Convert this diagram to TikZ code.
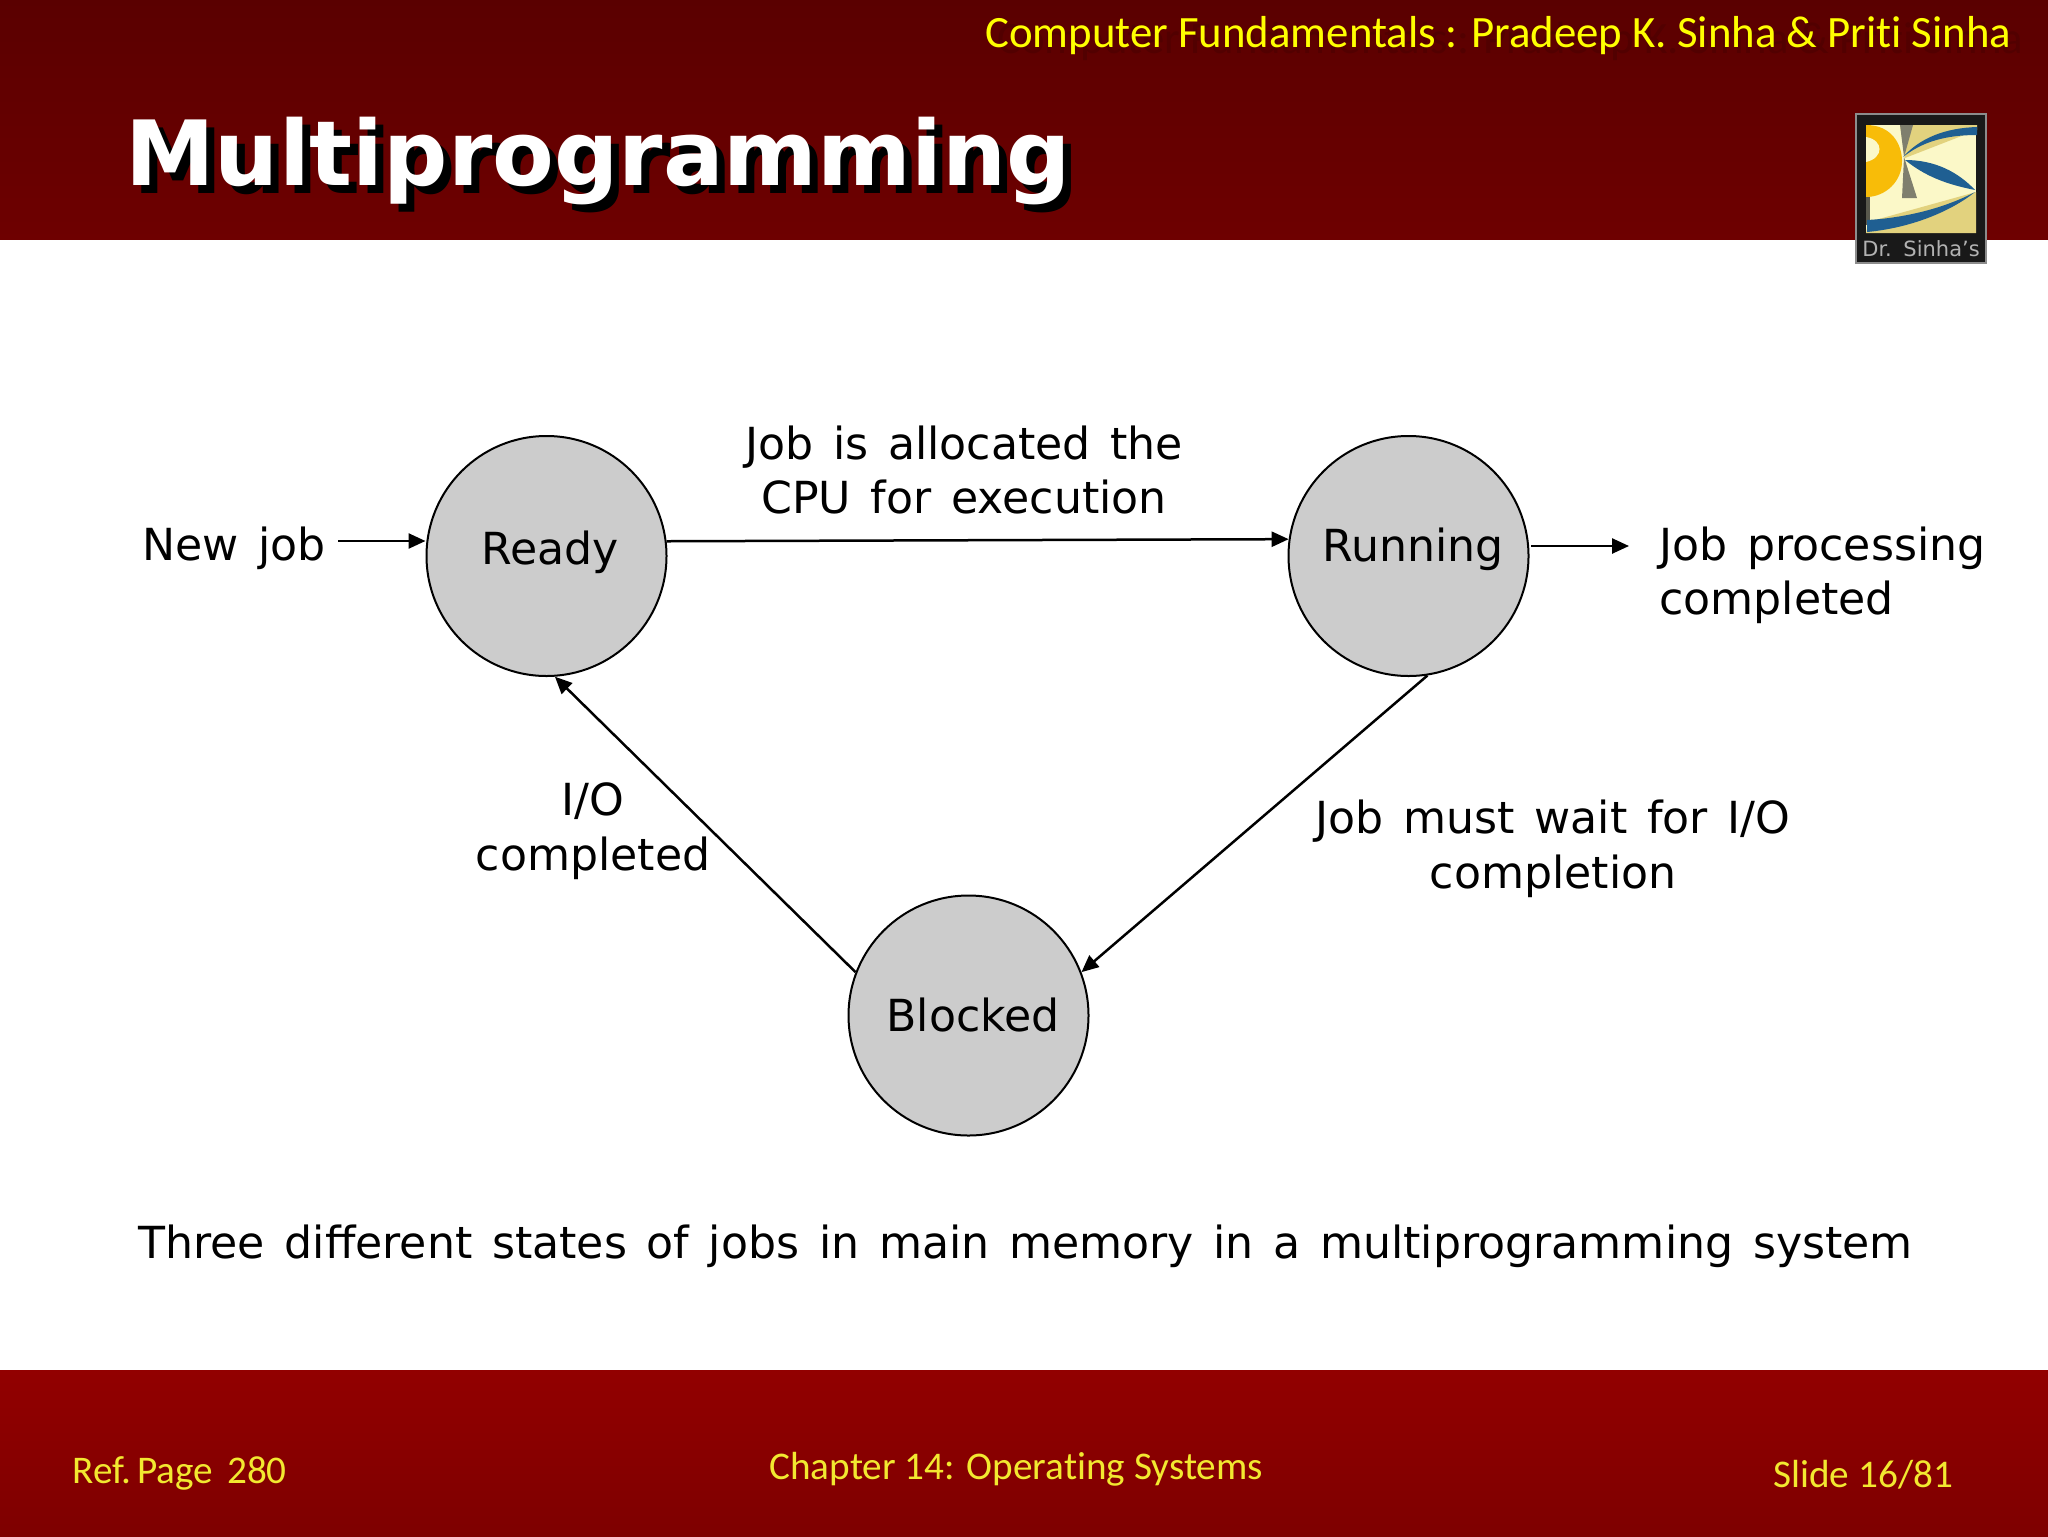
\documentclass[tikz,border=0pt]{standalone}
\usepackage{fontspec}
\setmainfont[WordSpace=1.4]{DejaVu Sans}
\newfontfamily\calib[Ligatures=NoCommon]{Carlito}
\definecolor{hdtop}{HTML}{5A0000}
\definecolor{hdbot}{HTML}{6E0000}
\definecolor{fttop}{HTML}{920000}
\definecolor{ftbot}{HTML}{7E0000}
\definecolor{hdshadow}{HTML}{520000}
\definecolor{yel}{HTML}{FFFF00}
\definecolor{ftyel}{HTML}{F2E830}
\definecolor{stategray}{HTML}{CCCCCC}
\definecolor{lgblue}{HTML}{1F5F92}
\definecolor{lgcream}{HTML}{FBF8C8}
\definecolor{lgtan}{HTML}{E2D27E}
\definecolor{lgorange}{HTML}{F8BC08}
\definecolor{lggray}{HTML}{7F7F6E}
\usetikzlibrary{arrows.meta}
\tikzset{
  state/.style={circle,draw=black,line width=1pt,fill=stategray,minimum size=120pt,inner sep=0pt},
  conn/.style={line width=1.25pt,-{Triangle[length=8.5pt,width=7.5pt]}},
  txt/.style={inner sep=0pt,font=\fontsize{22.1pt}{27pt}\selectfont,text=black},
  statetxt/.style={txt,anchor=base},
  hdr/.style={inner sep=0pt,anchor=base west,font=\calib\fontsize{22.4pt}{26pt}\selectfont},
  foot/.style={inner sep=0pt,anchor=base west,text=ftyel,font=\calib\fontsize{19.6pt}{23pt}\selectfont},
  ttl/.style={inner sep=0pt,anchor=base west,font=\bfseries\fontsize{45pt}{54pt}\selectfont},
}
\begin{document}
\begin{tikzpicture}[x=0.5pt,y=-0.5pt]
\useasboundingbox (0,0) rectangle (2048,1536);
% bands
\fill[white] (0,0) rectangle (2048,1536);
\shade[top color=hdtop,bottom color=hdbot] (0,0) rectangle (2048,239);
\shade[top color=fttop,bottom color=ftbot] (0,1370) rectangle (2048,1536);
% header
\node[hdr,text=hdshadow] at (997,54) {Computer Fundamentals : Pradeep K. Sinha \& Priti Sinha};
\node[hdr,text=yel] (author) at (985,48) {Computer Fundamentals : Pradeep K. Sinha \& Priti Sinha};
\node[ttl,text=black] at (133,193) {Multiprogramming};
\node[ttl,text=white] (title) at (125,185) {Multiprogramming};
% logo
\fill[black!90,draw=black!45,line width=.6pt] (1856,114) rectangle (1986,263);
\fill[lgcream] (1866,125) rectangle (1976,233);
\fill[lgtan] (1900,125) -- (1977,125) -- (1977,130) -- (1905,158) -- cycle;
\fill[lgtan] (1866,233) -- (1976,233) -- (1976,192) -- (1868,222) -- cycle;
\fill[lggray!70!black] (1866,197) rectangle (1870,225);
\fill[lggray] (1900,125) -- (1913,125) -- (1904,157) -- (1917,198) -- (1902,198) -- (1904,157) -- cycle;
\fill[lgorange] (1866,125) .. controls (1892,125) and (1902,145) .. (1902,161) .. controls (1902,182) and (1885,197) .. (1866,197) -- cycle;
\fill[lgcream] (1866,137) .. controls (1884,140) and (1884,158) .. (1866,162) -- cycle;
\fill[lgblue] (1903,157) .. controls (1920,138) and (1945,128) .. (1977,127) -- (1977,135) .. controls (1945,135) and (1922,142) .. (1903,157) -- cycle;
\fill[lgblue] (1905,160) .. controls (1935,160) and (1958,172) .. (1975,190) .. controls (1945,184) and (1925,176) .. (1905,160) -- cycle;
\fill[lgblue] (1975,192) .. controls (1950,212) and (1910,228) .. (1867,232) -- (1867,220) .. controls (1905,218) and (1945,208) .. (1975,192) -- cycle;
\node[inner sep=0pt,text=black!30,font=\fontsize{10.5pt}{12pt}\selectfont] (logotext) at (1921,249) {Dr. Sinha\symbol{39}s};
% states
\node[state] (ready) at (546.5,556) {};
\node[state] (running) at (1408.5,556) {};
\node[state] (blocked) at (968.5,1015.5) {};
\node[statetxt] at (550,564) {Ready};
\node[statetxt] at (1413,561) {Running};
\node[statetxt] at (973,1031) {Blocked};
% free ends
\coordinate (newstart) at (338,541);
\coordinate (doneend) at (1629,546);
\coordinate (runout) at (1531,546);
% connectors
\draw[conn] (newstart) -- (ready.west |- newstart);
\draw[conn] (ready.7.2) -- (running.172.8);
\draw[conn] (runout) -- (doneend);
\draw[conn] (running.-81.7) -- (blocked.21.5);
\draw[conn] (blocked.159.6) -- (ready.-86.6);
% labels
\node[txt,anchor=base west] (newjob) at (142,560) {New job};
\node[txt,anchor=base] (alloc1) at (964,459) {Job is allocated the};
\node[txt,anchor=base] (alloc2) at (964,513) {CPU for execution};
\node[txt,anchor=base west] (done1) at (1659,560) {Job processing};
\node[txt,anchor=base west] (done2) at (1659,614) {completed};
\node[txt,anchor=base] (io1) at (593,815) {I/O};
\node[txt,anchor=base] (io2) at (593,870) {completed};
\node[txt,anchor=base] (wait1) at (1553,833) {Job must wait for I/O};
\node[txt,anchor=base] (wait2) at (1553,888) {completion};
\node[txt,anchor=base west] (caption) at (138,1258) {Three different states of jobs in main memory in a multiprogramming system};
% footer
\node[foot] (ref) at (72,1483) {Ref.\hspace{3pt}Page\hspace{7pt}280};
\node[foot] (chap) at (769,1479) {Chapter 14: Operating Systems};
\node[foot] (slide) at (1773,1487) {Slide 16/81};
\end{tikzpicture}
\end{document}
